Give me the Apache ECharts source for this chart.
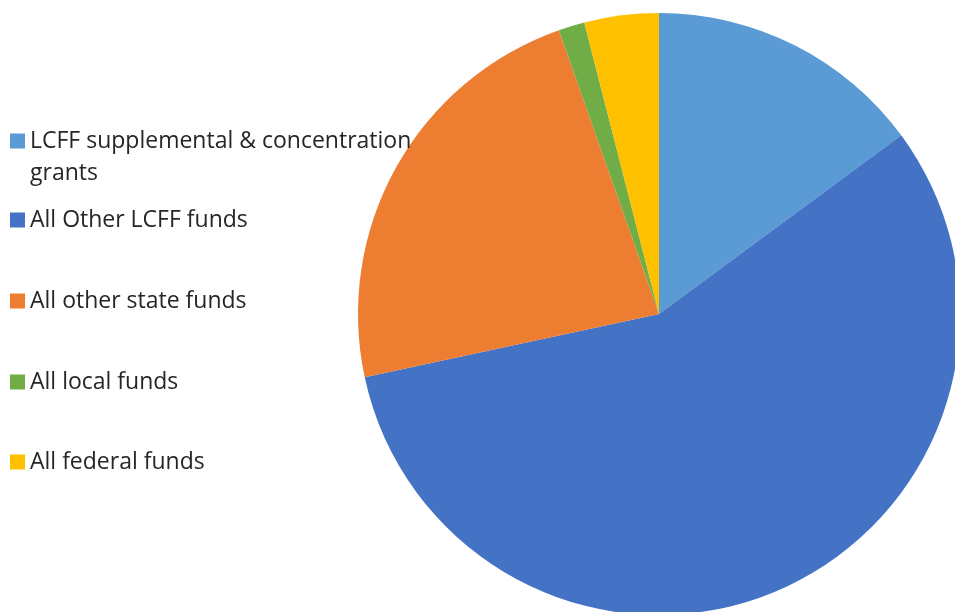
<!DOCTYPE html>
<html><head><meta charset="utf-8">
<script src="https://cdn.jsdelivr.net/npm/echarts@6/dist/echarts.min.js"></script>
<style>html,body{margin:0;padding:0;background:#fff}#c{width:955px;height:612px}</style>
</head><body><div id="c"></div>
<script>
const categories = ['LCFF supplemental & concentration grants','All Other LCFF funds','All other state funds','All local funds','All federal funds'];
const legendLabels = ['LCFF supplemental & concentration\ngrants','All Other LCFF funds','All other state funds','All local funds','All federal funds'];
const values = [14.9, 56.8, 23.0, 1.4, 4.0];
const colors = ['#5B9BD5','#4472C4','#ED7D31','#70AD47','#FFC000'];
const legendCenters = [141, 220, 301, 382, 462];

const chart = echarts.init(document.getElementById('c'));
const font = '"Open Sans", sans-serif';
const legends = categories.map((name, i) => ({
  data: [name],
  orient: 'vertical',
  left: 10,
  top: legendCenters[i] - 16,
  padding: 0,
  itemWidth: 15,
  itemHeight: i === 0 ? 47 : 15,
  icon: i === 0 ? 'path://M0,0L15,0L15,15L0,15Z M0,15L0,47L0,15Z' : 'rect',
  itemStyle: { borderWidth: 0 },
  selectedMode: false,
  formatter: () => legendLabels[i],
  textStyle: { fontFamily: font, fontSize: 23, color: '#262626', lineHeight: 32 }
}));
chart.setOption({
  animation: false,
  color: colors,
  legend: legends,
  series: [{
    type: 'pie',
    center: [659, 314],
    radius: 301,
    startAngle: 90,
    clockwise: true,
    label: { show: false },
    labelLine: { show: false },
    itemStyle: { borderWidth: 0 },
    emphasis: { disabled: true },
    data: categories.map((n, i) => ({ name: n, value: values[i] }))
  }]
});
</script></body></html>
